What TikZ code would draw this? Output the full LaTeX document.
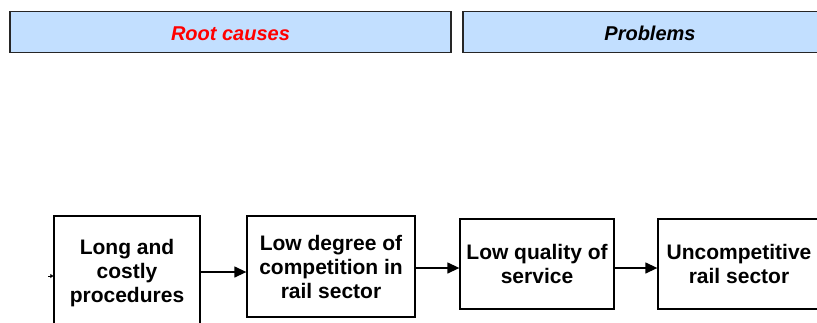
\documentclass[tikz,border=0pt]{standalone}
\usepackage{fontspec}
\setmainfont{Liberation Sans}
\usetikzlibrary{arrows.meta}
\definecolor{hdrfill}{RGB}{194,223,255}
\definecolor{hdrred}{RGB}{255,0,0}
\tikzset{
  hdr/.style={draw=black!85, line width=1.5bp, fill=hdrfill, inner sep=0pt,
    minimum height=41bp, text height=17.5bp, text depth=0pt,
    font=\fontsize{20bp}{24bp}\selectfont\bfseries\itshape},
  stepbox/.style={draw=black, line width=1.3bp, fill=white, inner sep=0pt, align=center,
    font=\fontsize{21bp}{24bp}\selectfont\bfseries},
  flow/.style={line width=1.3bp, -{Triangle[length=12bp,width=11bp]}},
}
\begin{document}
\begin{tikzpicture}[x=1bp,y=-1bp]
\clip (0,0) rectangle (817,322);
\fill[white] (0,0) rectangle (817,322);
\node[hdr, minimum width=441bp, text=hdrred] (h1) at (230.5,32) {Root causes};
\node[hdr, minimum width=374bp] (h2) at (650,32) {Problems};
\node[stepbox, minimum width=146bp, minimum height=114bp] (b1) at (127,273) {Long and\\costly\\procedures};
\node[stepbox, minimum width=168bp, minimum height=101bp] (b2) at (331,266.5) {Low degree of\\competition in\\rail sector};
\node[stepbox, minimum width=154bp, minimum height=90bp] (b3) at (537,264) {Low quality of\\service};
\node[stepbox, minimum width=162bp, minimum height=90bp] (b4) at (739,264) {Uncompetitive\\rail sector};
\coordinate (t) at (48,276);
\draw[line width=1bp, -{Triangle[length=3bp,width=4bp]}] (t) -- (t -| b1.west);
\draw[flow] ([yshift=1bp]b1.east) -- ([yshift=1bp]b1.east -| b2.west);
\draw[flow] ([yshift=-1.5bp]b2.east) -- ([yshift=-1.5bp]b2.east -| b3.west);
\draw[flow] ([yshift=-4bp]b3.east) -- ([yshift=-4bp]b4.west);
\end{tikzpicture}
\end{document}
